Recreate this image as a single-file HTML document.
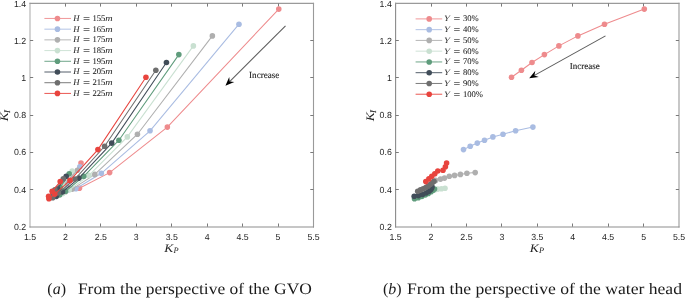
<!DOCTYPE html>
<html><head><meta charset="utf-8"><style>
html,body{margin:0;padding:0;background:#fff;}
svg{display:block;will-change:transform;}
text{-webkit-font-smoothing:antialiased;text-rendering:geometricPrecision;}
.tick{font-family:"Liberation Sans",sans-serif;font-size:8.8px;fill:#262626;}
.ser{font-family:"Liberation Serif",serif;}
</style></head><body>
<svg width="685" height="298" viewBox="0 0 685 298">
<rect width="685" height="298" fill="#fff"/>

<line x1="30.00" y1="2.85" x2="30.00" y2="227.50" stroke="#b0b0b0" stroke-width="1.1"/>
<line x1="313.50" y1="2.85" x2="313.50" y2="227.50" stroke="#9a9a9a" stroke-width="1.1"/>
<line x1="29.45" y1="3.40" x2="314.05" y2="3.40" stroke="#9a9a9a" stroke-width="1.1"/>
<line x1="29.45" y1="226.95" x2="314.05" y2="226.95" stroke="#8e8e8e" stroke-width="1.1"/>
<text class="tick" x="30.00" y="239.70" text-anchor="middle">1.5</text>
<line x1="65.50" y1="226.70" x2="65.50" y2="223.50" stroke="#7a7a7a" stroke-width="1"/>
<line x1="65.50" y1="3.40" x2="65.50" y2="6.60" stroke="#7a7a7a" stroke-width="1"/>
<text class="tick" x="65.44" y="239.70" text-anchor="middle">2</text>
<line x1="100.50" y1="226.70" x2="100.50" y2="223.50" stroke="#7a7a7a" stroke-width="1"/>
<line x1="100.50" y1="3.40" x2="100.50" y2="6.60" stroke="#7a7a7a" stroke-width="1"/>
<text class="tick" x="100.88" y="239.70" text-anchor="middle">2.5</text>
<line x1="136.50" y1="226.70" x2="136.50" y2="223.50" stroke="#7a7a7a" stroke-width="1"/>
<line x1="136.50" y1="3.40" x2="136.50" y2="6.60" stroke="#7a7a7a" stroke-width="1"/>
<text class="tick" x="136.31" y="239.70" text-anchor="middle">3</text>
<line x1="171.50" y1="226.70" x2="171.50" y2="223.50" stroke="#7a7a7a" stroke-width="1"/>
<line x1="171.50" y1="3.40" x2="171.50" y2="6.60" stroke="#7a7a7a" stroke-width="1"/>
<text class="tick" x="171.75" y="239.70" text-anchor="middle">3.5</text>
<line x1="207.50" y1="226.70" x2="207.50" y2="223.50" stroke="#7a7a7a" stroke-width="1"/>
<line x1="207.50" y1="3.40" x2="207.50" y2="6.60" stroke="#7a7a7a" stroke-width="1"/>
<text class="tick" x="207.19" y="239.70" text-anchor="middle">4</text>
<line x1="242.50" y1="226.70" x2="242.50" y2="223.50" stroke="#7a7a7a" stroke-width="1"/>
<line x1="242.50" y1="3.40" x2="242.50" y2="6.60" stroke="#7a7a7a" stroke-width="1"/>
<text class="tick" x="242.62" y="239.70" text-anchor="middle">4.5</text>
<line x1="278.50" y1="226.70" x2="278.50" y2="223.50" stroke="#7a7a7a" stroke-width="1"/>
<line x1="278.50" y1="3.40" x2="278.50" y2="6.60" stroke="#7a7a7a" stroke-width="1"/>
<text class="tick" x="278.06" y="239.70" text-anchor="middle">5</text>
<text class="tick" x="313.50" y="239.70" text-anchor="middle">5.5</text>
<text class="tick" x="26.20" y="229.90" text-anchor="end">0.2</text>
<line x1="30.00" y1="189.50" x2="33.20" y2="189.50" stroke="#7a7a7a" stroke-width="1"/>
<line x1="313.50" y1="189.50" x2="310.30" y2="189.50" stroke="#7a7a7a" stroke-width="1"/>
<text class="tick" x="26.20" y="192.68" text-anchor="end">0.4</text>
<line x1="30.00" y1="152.50" x2="33.20" y2="152.50" stroke="#7a7a7a" stroke-width="1"/>
<line x1="313.50" y1="152.50" x2="310.30" y2="152.50" stroke="#7a7a7a" stroke-width="1"/>
<text class="tick" x="26.20" y="155.47" text-anchor="end">0.6</text>
<line x1="30.00" y1="115.50" x2="33.20" y2="115.50" stroke="#7a7a7a" stroke-width="1"/>
<line x1="313.50" y1="115.50" x2="310.30" y2="115.50" stroke="#7a7a7a" stroke-width="1"/>
<text class="tick" x="26.20" y="118.25" text-anchor="end">0.8</text>
<line x1="30.00" y1="77.50" x2="33.20" y2="77.50" stroke="#7a7a7a" stroke-width="1"/>
<line x1="313.50" y1="77.50" x2="310.30" y2="77.50" stroke="#7a7a7a" stroke-width="1"/>
<text class="tick" x="26.20" y="81.03" text-anchor="end">1</text>
<line x1="30.00" y1="40.50" x2="33.20" y2="40.50" stroke="#7a7a7a" stroke-width="1"/>
<line x1="313.50" y1="40.50" x2="310.30" y2="40.50" stroke="#7a7a7a" stroke-width="1"/>
<text class="tick" x="26.20" y="43.82" text-anchor="end">1.2</text>
<text class="tick" x="26.20" y="6.60" text-anchor="end">1.4</text>
<text class="ser" x="164.15" y="251.80" font-size="11.5" font-style="italic" fill="#262626" textLength="9.0" lengthAdjust="spacingAndGlyphs">K</text>
<text class="ser" x="173.55" y="252.80" font-size="8.4" font-style="italic" fill="#262626">P</text>
<g transform="translate(8.00,121.35) rotate(-90)"><text class="ser" x="0" y="0" font-size="11.5" font-style="italic" fill="#262626" textLength="9.0" lengthAdjust="spacingAndGlyphs">K</text><text class="ser" x="8.4" y="2.0" font-size="8.6" font-style="italic" fill="#262626" stroke="#262626" stroke-width="0.15">I</text></g>
<line x1="395.60" y1="2.85" x2="395.60" y2="227.50" stroke="#8a8a8a" stroke-width="1.1"/>
<line x1="679.00" y1="2.85" x2="679.00" y2="227.50" stroke="#9a9a9a" stroke-width="1.1"/>
<line x1="395.05" y1="3.40" x2="679.55" y2="3.40" stroke="#9a9a9a" stroke-width="1.1"/>
<line x1="395.05" y1="226.95" x2="679.55" y2="226.95" stroke="#8e8e8e" stroke-width="1.1"/>
<text class="tick" x="395.60" y="239.70" text-anchor="middle">1.5</text>
<line x1="431.50" y1="226.70" x2="431.50" y2="223.50" stroke="#7a7a7a" stroke-width="1"/>
<line x1="431.50" y1="3.40" x2="431.50" y2="6.60" stroke="#7a7a7a" stroke-width="1"/>
<text class="tick" x="431.03" y="239.70" text-anchor="middle">2</text>
<line x1="466.50" y1="226.70" x2="466.50" y2="223.50" stroke="#7a7a7a" stroke-width="1"/>
<line x1="466.50" y1="3.40" x2="466.50" y2="6.60" stroke="#7a7a7a" stroke-width="1"/>
<text class="tick" x="466.45" y="239.70" text-anchor="middle">2.5</text>
<line x1="501.50" y1="226.70" x2="501.50" y2="223.50" stroke="#7a7a7a" stroke-width="1"/>
<line x1="501.50" y1="3.40" x2="501.50" y2="6.60" stroke="#7a7a7a" stroke-width="1"/>
<text class="tick" x="501.88" y="239.70" text-anchor="middle">3</text>
<line x1="537.50" y1="226.70" x2="537.50" y2="223.50" stroke="#7a7a7a" stroke-width="1"/>
<line x1="537.50" y1="3.40" x2="537.50" y2="6.60" stroke="#7a7a7a" stroke-width="1"/>
<text class="tick" x="537.30" y="239.70" text-anchor="middle">3.5</text>
<line x1="572.50" y1="226.70" x2="572.50" y2="223.50" stroke="#7a7a7a" stroke-width="1"/>
<line x1="572.50" y1="3.40" x2="572.50" y2="6.60" stroke="#7a7a7a" stroke-width="1"/>
<text class="tick" x="572.73" y="239.70" text-anchor="middle">4</text>
<line x1="608.50" y1="226.70" x2="608.50" y2="223.50" stroke="#7a7a7a" stroke-width="1"/>
<line x1="608.50" y1="3.40" x2="608.50" y2="6.60" stroke="#7a7a7a" stroke-width="1"/>
<text class="tick" x="608.15" y="239.70" text-anchor="middle">4.5</text>
<line x1="643.50" y1="226.70" x2="643.50" y2="223.50" stroke="#7a7a7a" stroke-width="1"/>
<line x1="643.50" y1="3.40" x2="643.50" y2="6.60" stroke="#7a7a7a" stroke-width="1"/>
<text class="tick" x="643.58" y="239.70" text-anchor="middle">5</text>
<text class="tick" x="679.00" y="239.70" text-anchor="middle">5.5</text>
<text class="tick" x="391.80" y="229.90" text-anchor="end">0.2</text>
<line x1="395.60" y1="189.50" x2="398.80" y2="189.50" stroke="#7a7a7a" stroke-width="1"/>
<line x1="679.00" y1="189.50" x2="675.80" y2="189.50" stroke="#7a7a7a" stroke-width="1"/>
<text class="tick" x="391.80" y="192.68" text-anchor="end">0.4</text>
<line x1="395.60" y1="152.50" x2="398.80" y2="152.50" stroke="#7a7a7a" stroke-width="1"/>
<line x1="679.00" y1="152.50" x2="675.80" y2="152.50" stroke="#7a7a7a" stroke-width="1"/>
<text class="tick" x="391.80" y="155.47" text-anchor="end">0.6</text>
<line x1="395.60" y1="115.50" x2="398.80" y2="115.50" stroke="#7a7a7a" stroke-width="1"/>
<line x1="679.00" y1="115.50" x2="675.80" y2="115.50" stroke="#7a7a7a" stroke-width="1"/>
<text class="tick" x="391.80" y="118.25" text-anchor="end">0.8</text>
<line x1="395.60" y1="77.50" x2="398.80" y2="77.50" stroke="#7a7a7a" stroke-width="1"/>
<line x1="679.00" y1="77.50" x2="675.80" y2="77.50" stroke="#7a7a7a" stroke-width="1"/>
<text class="tick" x="391.80" y="81.03" text-anchor="end">1</text>
<line x1="395.60" y1="40.50" x2="398.80" y2="40.50" stroke="#7a7a7a" stroke-width="1"/>
<line x1="679.00" y1="40.50" x2="675.80" y2="40.50" stroke="#7a7a7a" stroke-width="1"/>
<text class="tick" x="391.80" y="43.82" text-anchor="end">1.2</text>
<text class="tick" x="391.80" y="6.60" text-anchor="end">1.4</text>
<text class="ser" x="529.70" y="251.80" font-size="11.5" font-style="italic" fill="#262626" textLength="9.0" lengthAdjust="spacingAndGlyphs">K</text>
<text class="ser" x="539.10" y="252.80" font-size="8.4" font-style="italic" fill="#262626">P</text>
<g transform="translate(373.60,121.35) rotate(-90)"><text class="ser" x="0" y="0" font-size="11.5" font-style="italic" fill="#262626" textLength="9.0" lengthAdjust="spacingAndGlyphs">K</text><text class="ser" x="8.4" y="2.0" font-size="8.6" font-style="italic" fill="#262626" stroke="#262626" stroke-width="0.15">I</text></g>
<polyline points="278.79,9.10 167.35,127.10 109.63,172.60 79.42,188.30 68.91,189.00 66.41,186.80 68.41,181.30 81.02,163.10" fill="none" stroke="#EE8B8D" stroke-width="1.05"/>
<circle cx="278.79" cy="9.10" r="2.8" fill="#EE8B8D"/><circle cx="167.35" cy="127.10" r="2.8" fill="#EE8B8D"/><circle cx="109.63" cy="172.60" r="2.8" fill="#EE8B8D"/><circle cx="79.42" cy="188.30" r="2.8" fill="#EE8B8D"/><circle cx="68.91" cy="189.00" r="2.8" fill="#EE8B8D"/><circle cx="66.41" cy="186.80" r="2.8" fill="#EE8B8D"/><circle cx="68.41" cy="181.30" r="2.8" fill="#EE8B8D"/><circle cx="81.02" cy="163.10" r="2.8" fill="#EE8B8D"/>
<polyline points="238.97,24.20 150.04,130.80 101.33,173.30 75.82,188.70 67.41,190.30 65.91,188.20 66.71,182.80 79.82,166.70" fill="none" stroke="#A9BCE2" stroke-width="1.05"/>
<circle cx="238.97" cy="24.20" r="2.8" fill="#A9BCE2"/><circle cx="150.04" cy="130.80" r="2.8" fill="#A9BCE2"/><circle cx="101.33" cy="173.30" r="2.8" fill="#A9BCE2"/><circle cx="75.82" cy="188.70" r="2.8" fill="#A9BCE2"/><circle cx="67.41" cy="190.30" r="2.8" fill="#A9BCE2"/><circle cx="65.91" cy="188.20" r="2.8" fill="#A9BCE2"/><circle cx="66.71" cy="182.80" r="2.8" fill="#A9BCE2"/><circle cx="79.82" cy="166.70" r="2.8" fill="#A9BCE2"/>
<polyline points="212.36,35.90 137.44,134.20 94.82,174.40 72.21,189.10 65.41,191.80 65.01,189.80 64.91,184.30 77.42,170.20" fill="none" stroke="#AFAFAF" stroke-width="1.05"/>
<circle cx="212.36" cy="35.90" r="2.8" fill="#AFAFAF"/><circle cx="137.44" cy="134.20" r="2.8" fill="#AFAFAF"/><circle cx="94.82" cy="174.40" r="2.8" fill="#AFAFAF"/><circle cx="72.21" cy="189.10" r="2.8" fill="#AFAFAF"/><circle cx="65.41" cy="191.80" r="2.8" fill="#AFAFAF"/><circle cx="65.01" cy="189.80" r="2.8" fill="#AFAFAF"/><circle cx="64.91" cy="184.30" r="2.8" fill="#AFAFAF"/><circle cx="77.42" cy="170.20" r="2.8" fill="#AFAFAF"/>
<polyline points="193.36,45.90 127.33,136.90 89.02,175.40 69.21,190.00 62.71,193.40 63.21,191.50 62.71,185.90 72.21,171.00" fill="none" stroke="#C9E0D1" stroke-width="1.05"/>
<circle cx="193.36" cy="45.90" r="2.8" fill="#C9E0D1"/><circle cx="127.33" cy="136.90" r="2.8" fill="#C9E0D1"/><circle cx="89.02" cy="175.40" r="2.8" fill="#C9E0D1"/><circle cx="69.21" cy="190.00" r="2.8" fill="#C9E0D1"/><circle cx="62.71" cy="193.40" r="2.8" fill="#C9E0D1"/><circle cx="63.21" cy="191.50" r="2.8" fill="#C9E0D1"/><circle cx="62.71" cy="185.90" r="2.8" fill="#C9E0D1"/><circle cx="72.21" cy="171.00" r="2.8" fill="#C9E0D1"/>
<polyline points="178.85,54.60 118.93,140.20 83.72,176.30 65.51,191.20 59.61,195.00 60.41,193.00 60.21,187.50 69.21,173.70" fill="none" stroke="#5F9C7C" stroke-width="1.05"/>
<circle cx="178.85" cy="54.60" r="2.8" fill="#5F9C7C"/><circle cx="118.93" cy="140.20" r="2.8" fill="#5F9C7C"/><circle cx="83.72" cy="176.30" r="2.8" fill="#5F9C7C"/><circle cx="65.51" cy="191.20" r="2.8" fill="#5F9C7C"/><circle cx="59.61" cy="195.00" r="2.8" fill="#5F9C7C"/><circle cx="60.41" cy="193.00" r="2.8" fill="#5F9C7C"/><circle cx="60.21" cy="187.50" r="2.8" fill="#5F9C7C"/><circle cx="69.21" cy="173.70" r="2.8" fill="#5F9C7C"/>
<polyline points="166.45,62.50 111.73,143.10 78.92,178.10 62.51,192.00 56.21,196.50 56.91,194.50 57.61,188.70 66.21,176.30" fill="none" stroke="#414D59" stroke-width="1.05"/>
<circle cx="166.45" cy="62.50" r="2.8" fill="#414D59"/><circle cx="111.73" cy="143.10" r="2.8" fill="#414D59"/><circle cx="78.92" cy="178.10" r="2.8" fill="#414D59"/><circle cx="62.51" cy="192.00" r="2.8" fill="#414D59"/><circle cx="56.21" cy="196.50" r="2.8" fill="#414D59"/><circle cx="56.91" cy="194.50" r="2.8" fill="#414D59"/><circle cx="57.61" cy="188.70" r="2.8" fill="#414D59"/><circle cx="66.21" cy="176.30" r="2.8" fill="#414D59"/>
<polyline points="155.84,70.30 104.63,146.30 74.92,179.10 58.41,193.00 52.71,197.80 52.91,195.60 54.91,189.90 63.31,178.90" fill="none" stroke="#6E6E6E" stroke-width="1.05"/>
<circle cx="155.84" cy="70.30" r="2.8" fill="#6E6E6E"/><circle cx="104.63" cy="146.30" r="2.8" fill="#6E6E6E"/><circle cx="74.92" cy="179.10" r="2.8" fill="#6E6E6E"/><circle cx="58.41" cy="193.00" r="2.8" fill="#6E6E6E"/><circle cx="52.71" cy="197.80" r="2.8" fill="#6E6E6E"/><circle cx="52.91" cy="195.60" r="2.8" fill="#6E6E6E"/><circle cx="54.91" cy="189.90" r="2.8" fill="#6E6E6E"/><circle cx="63.31" cy="178.90" r="2.8" fill="#6E6E6E"/>
<polyline points="145.94,77.30 97.92,149.60 70.01,180.40 54.81,194.10 48.91,198.80 48.61,196.20 52.11,191.30 60.21,181.60" fill="none" stroke="#E8443E" stroke-width="1.05"/>
<circle cx="145.94" cy="77.30" r="2.8" fill="#E8443E"/><circle cx="97.92" cy="149.60" r="2.8" fill="#E8443E"/><circle cx="70.01" cy="180.40" r="2.8" fill="#E8443E"/><circle cx="54.81" cy="194.10" r="2.8" fill="#E8443E"/><circle cx="48.91" cy="198.80" r="2.8" fill="#E8443E"/><circle cx="48.61" cy="196.20" r="2.8" fill="#E8443E"/><circle cx="52.11" cy="191.30" r="2.8" fill="#E8443E"/><circle cx="60.21" cy="181.60" r="2.8" fill="#E8443E"/>
<polyline points="511.50,77.30 521.40,70.30 532.00,62.50 544.40,54.60 558.90,45.90 577.90,35.90 604.50,24.20 644.30,9.10" fill="none" stroke="#EE8B8D" stroke-width="1.05"/>
<circle cx="511.50" cy="77.30" r="2.8" fill="#EE8B8D"/><circle cx="521.40" cy="70.30" r="2.8" fill="#EE8B8D"/><circle cx="532.00" cy="62.50" r="2.8" fill="#EE8B8D"/><circle cx="544.40" cy="54.60" r="2.8" fill="#EE8B8D"/><circle cx="558.90" cy="45.90" r="2.8" fill="#EE8B8D"/><circle cx="577.90" cy="35.90" r="2.8" fill="#EE8B8D"/><circle cx="604.50" cy="24.20" r="2.8" fill="#EE8B8D"/><circle cx="644.30" cy="9.10" r="2.8" fill="#EE8B8D"/>
<polyline points="463.50,149.60 470.20,146.30 477.30,143.10 484.50,140.20 492.90,136.90 503.00,134.20 515.60,130.80 532.90,127.10" fill="none" stroke="#A9BCE2" stroke-width="1.05"/>
<circle cx="463.50" cy="149.60" r="2.8" fill="#A9BCE2"/><circle cx="470.20" cy="146.30" r="2.8" fill="#A9BCE2"/><circle cx="477.30" cy="143.10" r="2.8" fill="#A9BCE2"/><circle cx="484.50" cy="140.20" r="2.8" fill="#A9BCE2"/><circle cx="492.90" cy="136.90" r="2.8" fill="#A9BCE2"/><circle cx="503.00" cy="134.20" r="2.8" fill="#A9BCE2"/><circle cx="515.60" cy="130.80" r="2.8" fill="#A9BCE2"/><circle cx="532.90" cy="127.10" r="2.8" fill="#A9BCE2"/>
<polyline points="435.60,180.40 440.50,179.10 444.50,178.10 449.30,176.30 454.60,175.40 460.40,174.40 466.90,173.30 475.20,172.60" fill="none" stroke="#AFAFAF" stroke-width="1.05"/>
<circle cx="435.60" cy="180.40" r="2.8" fill="#AFAFAF"/><circle cx="440.50" cy="179.10" r="2.8" fill="#AFAFAF"/><circle cx="444.50" cy="178.10" r="2.8" fill="#AFAFAF"/><circle cx="449.30" cy="176.30" r="2.8" fill="#AFAFAF"/><circle cx="454.60" cy="175.40" r="2.8" fill="#AFAFAF"/><circle cx="460.40" cy="174.40" r="2.8" fill="#AFAFAF"/><circle cx="466.90" cy="173.30" r="2.8" fill="#AFAFAF"/><circle cx="475.20" cy="172.60" r="2.8" fill="#AFAFAF"/>
<polyline points="420.40,194.10 424.00,193.00 428.10,192.00 431.10,191.20 434.80,190.00 437.80,189.10 441.40,188.70 445.00,188.30" fill="none" stroke="#C9E0D1" stroke-width="1.05"/>
<circle cx="420.40" cy="194.10" r="2.8" fill="#C9E0D1"/><circle cx="424.00" cy="193.00" r="2.8" fill="#C9E0D1"/><circle cx="428.10" cy="192.00" r="2.8" fill="#C9E0D1"/><circle cx="431.10" cy="191.20" r="2.8" fill="#C9E0D1"/><circle cx="434.80" cy="190.00" r="2.8" fill="#C9E0D1"/><circle cx="437.80" cy="189.10" r="2.8" fill="#C9E0D1"/><circle cx="441.40" cy="188.70" r="2.8" fill="#C9E0D1"/><circle cx="445.00" cy="188.30" r="2.8" fill="#C9E0D1"/>
<polyline points="414.50,198.80 418.30,197.80 421.80,196.50 425.20,195.00 428.30,193.40 431.00,191.80 433.00,190.30 434.50,189.00" fill="none" stroke="#5F9C7C" stroke-width="1.05"/>
<circle cx="414.50" cy="198.80" r="2.8" fill="#5F9C7C"/><circle cx="418.30" cy="197.80" r="2.8" fill="#5F9C7C"/><circle cx="421.80" cy="196.50" r="2.8" fill="#5F9C7C"/><circle cx="425.20" cy="195.00" r="2.8" fill="#5F9C7C"/><circle cx="428.30" cy="193.40" r="2.8" fill="#5F9C7C"/><circle cx="431.00" cy="191.80" r="2.8" fill="#5F9C7C"/><circle cx="433.00" cy="190.30" r="2.8" fill="#5F9C7C"/><circle cx="434.50" cy="189.00" r="2.8" fill="#5F9C7C"/>
<polyline points="414.20,196.20 418.50,195.60 422.50,194.50 426.00,193.00 428.80,191.50 430.60,189.80 431.50,188.20 432.00,186.80" fill="none" stroke="#414D59" stroke-width="1.05"/>
<circle cx="414.20" cy="196.20" r="2.8" fill="#414D59"/><circle cx="418.50" cy="195.60" r="2.8" fill="#414D59"/><circle cx="422.50" cy="194.50" r="2.8" fill="#414D59"/><circle cx="426.00" cy="193.00" r="2.8" fill="#414D59"/><circle cx="428.80" cy="191.50" r="2.8" fill="#414D59"/><circle cx="430.60" cy="189.80" r="2.8" fill="#414D59"/><circle cx="431.50" cy="188.20" r="2.8" fill="#414D59"/><circle cx="432.00" cy="186.80" r="2.8" fill="#414D59"/>
<polyline points="417.70,191.30 420.50,189.90 423.20,188.70 425.80,187.50 428.30,185.90 430.50,184.30 432.30,182.80 434.00,181.30" fill="none" stroke="#6E6E6E" stroke-width="1.05"/>
<circle cx="417.70" cy="191.30" r="2.8" fill="#6E6E6E"/><circle cx="420.50" cy="189.90" r="2.8" fill="#6E6E6E"/><circle cx="423.20" cy="188.70" r="2.8" fill="#6E6E6E"/><circle cx="425.80" cy="187.50" r="2.8" fill="#6E6E6E"/><circle cx="428.30" cy="185.90" r="2.8" fill="#6E6E6E"/><circle cx="430.50" cy="184.30" r="2.8" fill="#6E6E6E"/><circle cx="432.30" cy="182.80" r="2.8" fill="#6E6E6E"/><circle cx="434.00" cy="181.30" r="2.8" fill="#6E6E6E"/>
<polyline points="425.80,181.60 428.90,178.90 431.80,176.30 434.80,173.70 437.80,171.00 443.00,170.20 445.40,166.70 446.60,163.10" fill="none" stroke="#E8443E" stroke-width="1.05"/>
<circle cx="425.80" cy="181.60" r="2.8" fill="#E8443E"/><circle cx="428.90" cy="178.90" r="2.8" fill="#E8443E"/><circle cx="431.80" cy="176.30" r="2.8" fill="#E8443E"/><circle cx="434.80" cy="173.70" r="2.8" fill="#E8443E"/><circle cx="437.80" cy="171.00" r="2.8" fill="#E8443E"/><circle cx="443.00" cy="170.20" r="2.8" fill="#E8443E"/><circle cx="445.40" cy="166.70" r="2.8" fill="#E8443E"/><circle cx="446.60" cy="163.10" r="2.8" fill="#E8443E"/>
<line x1="285.50" y1="25.90" x2="229.65" y2="81.56" stroke="#5c5c5c" stroke-width="1.05"/><path d="M225.40,85.80 L229.23,76.90 L229.65,81.56 L234.32,82.00 Z" fill="#000"/>
<line x1="605.50" y1="35.90" x2="534.44" y2="75.39" stroke="#5c5c5c" stroke-width="1.05"/><path d="M529.20,78.30 L535.32,70.78 L534.44,75.39 L538.82,77.08 Z" fill="#000"/>
<text class="ser" x="249.1" y="77.7" font-size="9.3" textLength="30.2" lengthAdjust="spacingAndGlyphs" fill="#1a1a1a" stroke="#1a1a1a" stroke-width="0.12">Increase</text>
<text class="ser" x="569.7" y="68.9" font-size="9.2" textLength="30.1" lengthAdjust="spacingAndGlyphs" fill="#1a1a1a" stroke="#1a1a1a" stroke-width="0.12">Increase</text>
<line x1="44.40" y1="18.45" x2="71.00" y2="18.45" stroke="#EE8B8D" stroke-width="0.9"/>
<circle cx="57.45" cy="18.45" r="2.8" fill="#EE8B8D"/>
<text class="ser" x="73.20" y="20.85" font-size="8.6" fill="#222" stroke="#222" stroke-width="0.06"><tspan font-style="italic">H</tspan><tspan x="92.50">155</tspan></text><text class="ser" x="105.20" y="20.85" font-size="8.6" fill="#222" font-style="italic" textLength="7.4" lengthAdjust="spacingAndGlyphs">m</text><path d="M83.60,17.50h5.9M83.60,19.50h5.9" stroke="#555" stroke-width="0.8"/>
<line x1="44.40" y1="29.16" x2="71.00" y2="29.16" stroke="#A9BCE2" stroke-width="0.9"/>
<circle cx="57.45" cy="29.16" r="2.8" fill="#A9BCE2"/>
<text class="ser" x="73.20" y="31.56" font-size="8.6" fill="#222" stroke="#222" stroke-width="0.06"><tspan font-style="italic">H</tspan><tspan x="92.50">165</tspan></text><text class="ser" x="105.20" y="31.56" font-size="8.6" fill="#222" font-style="italic" textLength="7.4" lengthAdjust="spacingAndGlyphs">m</text><path d="M83.60,28.50h5.9M83.60,30.50h5.9" stroke="#555" stroke-width="0.8"/>
<line x1="44.40" y1="39.87" x2="71.00" y2="39.87" stroke="#AFAFAF" stroke-width="0.9"/>
<circle cx="57.45" cy="39.87" r="2.8" fill="#AFAFAF"/>
<text class="ser" x="73.20" y="42.27" font-size="8.6" fill="#222" stroke="#222" stroke-width="0.06"><tspan font-style="italic">H</tspan><tspan x="92.50">175</tspan></text><text class="ser" x="105.20" y="42.27" font-size="8.6" fill="#222" font-style="italic" textLength="7.4" lengthAdjust="spacingAndGlyphs">m</text><path d="M83.60,38.50h5.9M83.60,40.50h5.9" stroke="#555" stroke-width="0.8"/>
<line x1="44.40" y1="50.58" x2="71.00" y2="50.58" stroke="#C9E0D1" stroke-width="0.9"/>
<circle cx="57.45" cy="50.58" r="2.8" fill="#C9E0D1"/>
<text class="ser" x="73.20" y="52.98" font-size="8.6" fill="#222" stroke="#222" stroke-width="0.06"><tspan font-style="italic">H</tspan><tspan x="92.50">185</tspan></text><text class="ser" x="105.20" y="52.98" font-size="8.6" fill="#222" font-style="italic" textLength="7.4" lengthAdjust="spacingAndGlyphs">m</text><path d="M83.60,49.50h5.9M83.60,51.50h5.9" stroke="#555" stroke-width="0.8"/>
<line x1="44.40" y1="61.29" x2="71.00" y2="61.29" stroke="#5F9C7C" stroke-width="0.9"/>
<circle cx="57.45" cy="61.29" r="2.8" fill="#5F9C7C"/>
<text class="ser" x="73.20" y="63.69" font-size="8.6" fill="#222" stroke="#222" stroke-width="0.06"><tspan font-style="italic">H</tspan><tspan x="92.50">195</tspan></text><text class="ser" x="105.20" y="63.69" font-size="8.6" fill="#222" font-style="italic" textLength="7.4" lengthAdjust="spacingAndGlyphs">m</text><path d="M83.60,60.50h5.9M83.60,62.50h5.9" stroke="#555" stroke-width="0.8"/>
<line x1="44.40" y1="72.00" x2="71.00" y2="72.00" stroke="#414D59" stroke-width="0.9"/>
<circle cx="57.45" cy="72.00" r="2.8" fill="#414D59"/>
<text class="ser" x="73.20" y="74.40" font-size="8.6" fill="#222" stroke="#222" stroke-width="0.06"><tspan font-style="italic">H</tspan><tspan x="92.50">205</tspan></text><text class="ser" x="105.20" y="74.40" font-size="8.6" fill="#222" font-style="italic" textLength="7.4" lengthAdjust="spacingAndGlyphs">m</text><path d="M83.60,71.50h5.9M83.60,73.50h5.9" stroke="#555" stroke-width="0.8"/>
<line x1="44.40" y1="82.71" x2="71.00" y2="82.71" stroke="#6E6E6E" stroke-width="0.9"/>
<circle cx="57.45" cy="82.71" r="2.8" fill="#6E6E6E"/>
<text class="ser" x="73.20" y="85.11" font-size="8.6" fill="#222" stroke="#222" stroke-width="0.06"><tspan font-style="italic">H</tspan><tspan x="92.50">215</tspan></text><text class="ser" x="105.20" y="85.11" font-size="8.6" fill="#222" font-style="italic" textLength="7.4" lengthAdjust="spacingAndGlyphs">m</text><path d="M83.60,81.50h5.9M83.60,83.50h5.9" stroke="#555" stroke-width="0.8"/>
<line x1="44.40" y1="93.42" x2="71.00" y2="93.42" stroke="#E8443E" stroke-width="0.9"/>
<circle cx="57.45" cy="93.42" r="2.8" fill="#E8443E"/>
<text class="ser" x="73.20" y="95.82" font-size="8.6" fill="#222" stroke="#222" stroke-width="0.06"><tspan font-style="italic">H</tspan><tspan x="92.50">225</tspan></text><text class="ser" x="105.20" y="95.82" font-size="8.6" fill="#222" font-style="italic" textLength="7.4" lengthAdjust="spacingAndGlyphs">m</text><path d="M83.60,92.50h5.9M83.60,94.50h5.9" stroke="#555" stroke-width="0.8"/>
<line x1="415.60" y1="18.90" x2="442.20" y2="18.90" stroke="#EE8B8D" stroke-width="0.9"/>
<circle cx="429.20" cy="18.90" r="2.8" fill="#EE8B8D"/>
<text class="ser" transform="translate(443.10,21.30) skewX(-14) scale(1.1,1)" font-size="8.6" fill="#333">Y</text><text class="ser" x="462.90" y="21.30" font-size="8.6" fill="#222" stroke="#222" stroke-width="0.06">30%</text><path d="M454.10,17.50h5.6M454.10,19.50h5.6" stroke="#555" stroke-width="0.8"/>
<line x1="415.60" y1="29.66" x2="442.20" y2="29.66" stroke="#A9BCE2" stroke-width="0.9"/>
<circle cx="429.20" cy="29.66" r="2.8" fill="#A9BCE2"/>
<text class="ser" transform="translate(443.10,32.06) skewX(-14) scale(1.1,1)" font-size="8.6" fill="#333">Y</text><text class="ser" x="462.90" y="32.06" font-size="8.6" fill="#222" stroke="#222" stroke-width="0.06">40%</text><path d="M454.10,28.50h5.6M454.10,30.50h5.6" stroke="#555" stroke-width="0.8"/>
<line x1="415.60" y1="40.42" x2="442.20" y2="40.42" stroke="#AFAFAF" stroke-width="0.9"/>
<circle cx="429.20" cy="40.42" r="2.8" fill="#AFAFAF"/>
<text class="ser" transform="translate(443.10,42.82) skewX(-14) scale(1.1,1)" font-size="8.6" fill="#333">Y</text><text class="ser" x="462.90" y="42.82" font-size="8.6" fill="#222" stroke="#222" stroke-width="0.06">50%</text><path d="M454.10,39.50h5.6M454.10,41.50h5.6" stroke="#555" stroke-width="0.8"/>
<line x1="415.60" y1="51.18" x2="442.20" y2="51.18" stroke="#C9E0D1" stroke-width="0.9"/>
<circle cx="429.20" cy="51.18" r="2.8" fill="#C9E0D1"/>
<text class="ser" transform="translate(443.10,53.58) skewX(-14) scale(1.1,1)" font-size="8.6" fill="#333">Y</text><text class="ser" x="462.90" y="53.58" font-size="8.6" fill="#222" stroke="#222" stroke-width="0.06">60%</text><path d="M454.10,50.50h5.6M454.10,52.50h5.6" stroke="#555" stroke-width="0.8"/>
<line x1="415.60" y1="61.94" x2="442.20" y2="61.94" stroke="#5F9C7C" stroke-width="0.9"/>
<circle cx="429.20" cy="61.94" r="2.8" fill="#5F9C7C"/>
<text class="ser" transform="translate(443.10,64.34) skewX(-14) scale(1.1,1)" font-size="8.6" fill="#333">Y</text><text class="ser" x="462.90" y="64.34" font-size="8.6" fill="#222" stroke="#222" stroke-width="0.06">70%</text><path d="M454.10,60.50h5.6M454.10,62.50h5.6" stroke="#555" stroke-width="0.8"/>
<line x1="415.60" y1="72.70" x2="442.20" y2="72.70" stroke="#414D59" stroke-width="0.9"/>
<circle cx="429.20" cy="72.70" r="2.8" fill="#414D59"/>
<text class="ser" transform="translate(443.10,75.10) skewX(-14) scale(1.1,1)" font-size="8.6" fill="#333">Y</text><text class="ser" x="462.90" y="75.10" font-size="8.6" fill="#222" stroke="#222" stroke-width="0.06">80%</text><path d="M454.10,71.50h5.6M454.10,73.50h5.6" stroke="#555" stroke-width="0.8"/>
<line x1="415.60" y1="83.46" x2="442.20" y2="83.46" stroke="#6E6E6E" stroke-width="0.9"/>
<circle cx="429.20" cy="83.46" r="2.8" fill="#6E6E6E"/>
<text class="ser" transform="translate(443.10,85.86) skewX(-14) scale(1.1,1)" font-size="8.6" fill="#333">Y</text><text class="ser" x="462.90" y="85.86" font-size="8.6" fill="#222" stroke="#222" stroke-width="0.06">90%</text><path d="M454.10,82.50h5.6M454.10,84.50h5.6" stroke="#555" stroke-width="0.8"/>
<line x1="415.60" y1="94.22" x2="442.20" y2="94.22" stroke="#E8443E" stroke-width="0.9"/>
<circle cx="429.20" cy="94.22" r="2.8" fill="#E8443E"/>
<text class="ser" transform="translate(443.10,96.62) skewX(-14) scale(1.1,1)" font-size="8.6" fill="#333">Y</text><text class="ser" x="462.90" y="96.62" font-size="8.6" fill="#222" stroke="#222" stroke-width="0.06">100%</text><path d="M454.10,93.50h5.6M454.10,95.50h5.6" stroke="#555" stroke-width="0.8"/>
<text class="ser" x="47.3" y="293.8" font-size="16" fill="#1a1a1a">(<tspan font-style="italic">a</tspan>)<tspan x="77.9" textLength="234" lengthAdjust="spacingAndGlyphs">From the perspective of the GVO</tspan></text>
<text class="ser" x="382.9" y="293.8" font-size="16" fill="#1a1a1a">(<tspan font-style="italic">b</tspan>)<tspan x="407.0" textLength="275" lengthAdjust="spacingAndGlyphs">From the perspective of the water head</tspan></text>
</svg></body></html>
